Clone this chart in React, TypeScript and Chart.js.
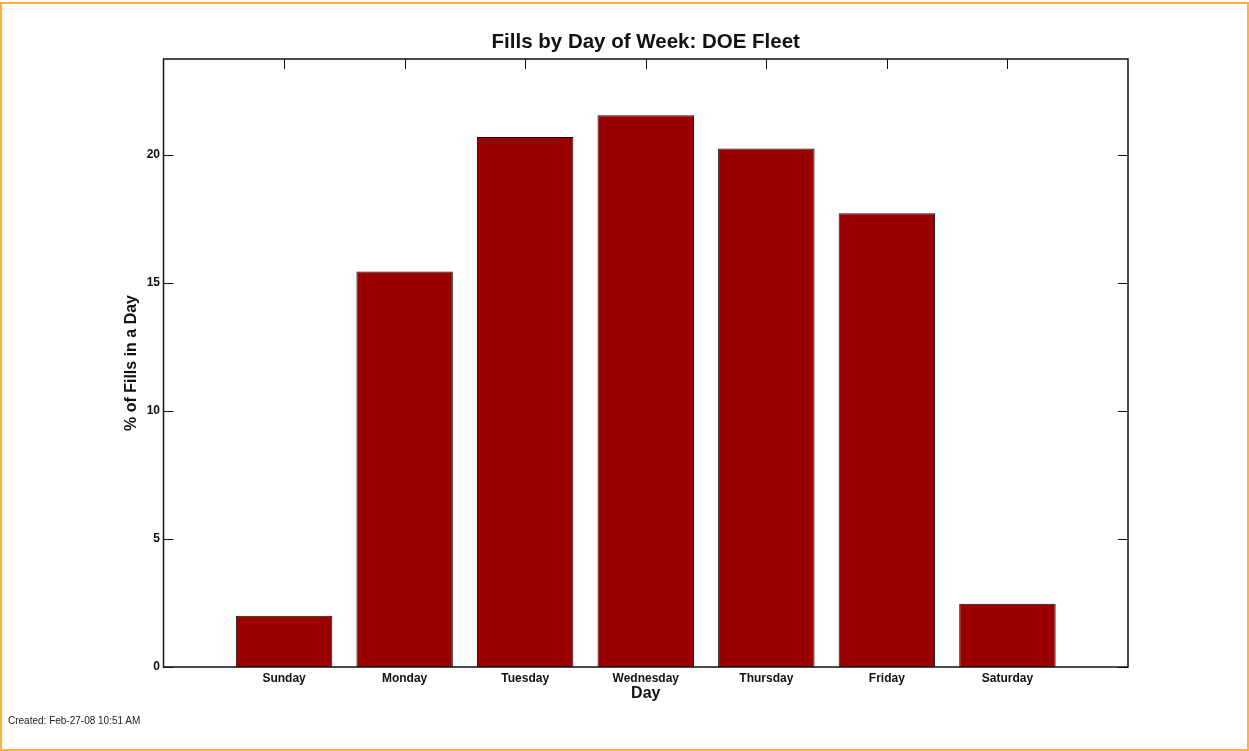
import React, { useEffect, useRef } from "react";
import { Chart, registerables } from "chart.js";

Chart.register(...registerables);

const days = ["Sunday", "Monday", "Tuesday", "Wednesday", "Thursday", "Friday", "Saturday"];
const dayPositions = [1, 2, 3, 4, 5, 6, 7];
const percentFills = [2.0, 15.45, 20.7, 21.55, 20.25, 17.72, 2.47];
const yTickValues = [0, 5, 10, 15, 20];

const FONT = "'Liberation Sans', Arial, Helvetica, sans-serif";
const INK = "#111111";

const frameTicksPlugin = {
  id: "frameTicks",
  beforeDatasetsDraw(chart: any) {
    const { ctx, chartArea } = chart;
    const xs = chart.scales.x;
    const ys = chart.scales.y;
    const len = 10;
    ctx.save();
    ctx.strokeStyle = INK;
    ctx.lineWidth = 1;
    ctx.beginPath();
    yTickValues.forEach((v) => {
      const y = Math.round(ys.getPixelForValue(v)) + 0.5;
      ctx.moveTo(chartArea.left, y);
      ctx.lineTo(chartArea.left + len, y);
      ctx.moveTo(chartArea.right, y);
      ctx.lineTo(chartArea.right - len, y);
    });
    dayPositions.forEach((v) => {
      const x = Math.round(xs.getPixelForValue(v)) + 0.5;
      ctx.moveTo(x, chartArea.top);
      ctx.lineTo(x, chartArea.top + len);
      ctx.moveTo(x, chartArea.bottom);
      ctx.lineTo(x, chartArea.bottom - len);
    });
    ctx.stroke();
    ctx.restore();
  },
  afterDatasetsDraw(chart: any) {
    const { ctx, chartArea } = chart;
    ctx.save();
    ctx.strokeStyle = INK;
    ctx.lineWidth = 1.5;
    ctx.strokeRect(
      chartArea.left,
      chartArea.top,
      chartArea.right - chartArea.left,
      chartArea.bottom - chartArea.top
    );
    ctx.restore();
  },
};

export default function App() {
  const canvasRef = useRef<HTMLCanvasElement | null>(null);

  useEffect(() => {
    const canvas = canvasRef.current;
    if (!canvas) return;
    const chart = new Chart(canvas, {
      type: "bar",
      data: {
        datasets: [
          {
            label: "% of Fills in a Day",
            data: dayPositions.map((x, i) => ({ x, y: percentFills[i] })),
            backgroundColor: "#990000",
            borderColor: "#111111",
            borderWidth: 1,
            barPercentage: 0.8,
            categoryPercentage: 1,
          },
        ],
      },
      options: {
        animation: false,
        responsive: true,
        maintainAspectRatio: false,
        layout: { padding: { left: 0, right: 121, top: 0, bottom: 0 } },
        plugins: {
          legend: { display: false },
          tooltip: { enabled: false },
          title: {
            display: true,
            fullSize: false,
            text: "Fills by Day of Week: DOE Fleet",
            color: INK,
            font: { family: FONT, size: 20.5, weight: "bold" },
            padding: { top: 29.7, bottom: 4.7 },
          },
        },
        scales: {
          x: {
            type: "linear",
            min: 0,
            max: 8,
            offset: false,
            grid: { display: false, drawTicks: false },
            border: { display: false },
            ticks: {
              stepSize: 1,
              autoSkip: false,
              maxRotation: 0,
              padding: 4,
              color: INK,
              font: { family: FONT, size: 12, weight: "bold" },
              callback: (v: any) => {
                const idx = dayPositions.indexOf(Number(v));
                return idx >= 0 ? days[idx] : "";
              },
            },
            title: {
              display: true,
              text: "Day",
              color: INK,
              font: { family: FONT, size: 16, weight: "bold" },
              padding: { top: 0, bottom: 47.4 },
            },
            afterFit: (scale: any) => {
              scale.height = 84;
            },
          },
          y: {
            min: 0,
            max: 23.75,
            grid: { display: false, drawTicks: false },
            border: { display: false },
            ticks: {
              stepSize: 5,
              includeBounds: false,
              padding: 3.5,
              color: INK,
              font: { family: FONT, size: 12, weight: "bold" },
            },
            title: {
              display: true,
              text: "% of Fills in a Day",
              color: INK,
              font: { family: FONT, size: 16, weight: "bold" },
              padding: { top: 122, bottom: 0 },
            },
            afterFit: (scale: any) => {
              scale.width = 163.5;
            },
          },
        },
      },
      plugins: [frameTicksPlugin],
    });
    return () => chart.destroy();
  }, []);

  return (
    <div style={{ position: "fixed", left: 0, top: 0, width: 1249, height: 751, background: "#ffffff" }}>
      <div
        style={{
          position: "absolute",
          left: 0,
          top: 2,
          width: 1249,
          height: 749,
          boxSizing: "border-box",
          border: "2px solid #FFB040",
        }}
      />
      <div style={{ position: "absolute", left: 0, top: 0, width: 1249, height: 751 }}>
        <canvas ref={canvasRef} />
      </div>
      <div
        style={{
          position: "absolute",
          left: 8,
          top: 715,
          fontFamily: FONT,
          fontSize: 10,
          lineHeight: "12px",
          color: "#222",
          whiteSpace: "nowrap",
        }}
      >
        Created: Feb-27-08 10:51 AM
      </div>
    </div>
  );
}
